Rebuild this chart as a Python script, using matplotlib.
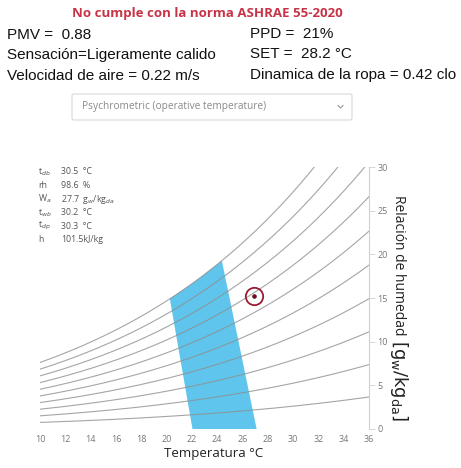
import numpy as np
import matplotlib
matplotlib.use("Agg")
import matplotlib.pyplot as plt
from matplotlib.patches import FancyBboxPatch, Polygon
from matplotlib.lines import Line2D

# ---- data -------------------------------------------------------------
rh_levels = [10, 20, 30, 40, 50, 60, 70, 80, 90, 100]      # % relative humidity lines
x_ticks = [10, 12, 14, 16, 18, 20, 22, 24, 26, 28, 30, 32, 34, 36]
y_ticks = [0, 5, 10, 15, 20, 25, 30]

# comfort zone corners (operative temperature, °C); top edge follows saturation
zone_bottom_left = 22.05
zone_top_left = 20.26
zone_top_right = 24.37
zone_bottom_right = 27.12

point_t = 26.9     # °C
point_w = 15.2     # g/kg

header = "No cumple con la norma ASHRAE 55-2020"
left_lines = ["PMV =  0.88", "Sensación=Ligeramente calido", "Velocidad de aire = 0.22 m/s"]
right_lines = ["PPD =  21%", "SET =  28.2 °C", "Dinamica de la ropa = 0.42 clo"]
info_labels = [r"t$_{db}$", "rh", r"W$_a$", r"t$_{wb}$", r"t$_{dp}$", "h"]
info_values = ["30.5  °C", "98.6  %", r"27.7  g$_w$/kg$_{da}$", "30.2  °C", "30.3  °C", "101.5kJ/kg"]
dropdown_text = "Psychrometric (operative temperature)"

P_ATM = 101.325  # kPa


def sat_pressure(t):
    return 0.61094 * np.exp(17.625 * t / (t + 243.04))


def humidity_ratio(t, rh):
    pv = rh / 100.0 * sat_pressure(t)
    return 622.0 * pv / (P_ATM - pv)


W, H = 461, 468
fig = plt.figure(figsize=(W / 100, H / 100), dpi=100)
fig.patch.set_facecolor("white")


def fx(px):
    return px / W


def fy(py):
    return 1 - py / H


# ---- header text ------------------------------------------------------
fig.text(fx(207), fy(13), header, color="#c73347", fontsize=9.5, fontweight="bold",
         family="Open Sans", ha="center", va="center")
for i, s in enumerate(left_lines):
    fig.text(fx(7), fy(35 + i * 20.5), s, fontsize=11, family="Liberation Sans",
             color="#111111", ha="left", va="center")
for i, s in enumerate(right_lines):
    fig.text(fx(250), fy(33.5 + i * 20.5), s, fontsize=11, family="Liberation Sans",
             color="#111111", ha="left", va="center")

# dropdown selector
box = FancyBboxPatch((fx(72), fy(120)), fx(352) - fx(72), fy(94) - fy(120),
                     boxstyle="round,pad=0,rounding_size=0.004",
                     transform=fig.transFigure, facecolor="white",
                     edgecolor="#d8d8d8", linewidth=0.8)
fig.patches.append(box)
fig.text(fx(82), fy(107), dropdown_text, fontsize=7.3, family="Open Sans",
         color="#8a8a8a", ha="left", va="center")
fig.lines.append(Line2D([fx(338), fx(340.5), fx(343)], [fy(105.5), fy(108), fy(105.5)],
                        transform=fig.transFigure, color="#999999", lw=0.8))

# ---- psychrometric chart ---------------------------------------------
ax = fig.add_axes([fx(40), fy(429), fx(369) - fx(40), fy(167) - fy(429)])
ax.set_xlim(10, 36)
ax.set_ylim(0, 30)

# comfort zone
top_t = np.linspace(zone_top_left, zone_top_right, 30)
zone = [(zone_bottom_left, 0)] + [(t, humidity_ratio(t, 100)) for t in top_t] + [(zone_bottom_right, 0)]
ax.add_patch(Polygon(zone, closed=True, facecolor="#5fc5ec", edgecolor="none", zorder=1))

t = np.linspace(10, 36, 300)
for rh in rh_levels:
    ax.plot(t, humidity_ratio(t, rh), color="#8f8f8f", lw=0.8, alpha=0.8, zorder=2)

ax.plot(point_t, point_w, marker="o", ms=12.5, mfc="none", mec="#9c1c34", mew=1.3, zorder=4)
ax.plot(point_t, point_w, marker="o", ms=2.3, color="#6b0f20", zorder=4)

for s in ["top", "left", "bottom"]:
    ax.spines[s].set_visible(False)
ax.spines["right"].set_color("#d0d0d0")
ax.spines["right"].set_linewidth(0.8)
ax.yaxis.tick_right()
ax.set_yticks(y_ticks)
ax.set_xticks(x_ticks)
ax.tick_params(axis="y", length=4, width=0.6, color="#d0d0d0", labelsize=6.5,
               labelcolor="#777777", pad=2)
ax.tick_params(axis="x", length=0, labelsize=6.5, labelcolor="#777777", pad=4)
for lab in ax.get_xticklabels() + ax.get_yticklabels():
    lab.set_family("Open Sans")

# readout block
for i, (lab, val) in enumerate(zip(info_labels, info_values)):
    yy = 172 + i * 13.6
    fig.text(fx(38), fy(yy), lab, fontsize=6.3, color="#555555", family="Open Sans",
             ha="left", va="center")
    fig.text(fx(61), fy(yy), val, fontsize=6.3, color="#555555", family="Open Sans",
             ha="left", va="center")

# axis titles
fig.text(fx(214), fy(453), "Temperatura °C", fontsize=9.5, family="Open Sans",
         color="#222222", ha="center", va="center")
fig.text(fx(398), fy(265), "Relación de humedad", fontsize=10, family="Open Sans",
         color="#222222", rotation=-90, ha="center", va="center")
fig.text(fx(399), fy(381), r"$\left[\mathrm{g_w/kg_{da}}\right]$", fontsize=13,
         color="#222222", rotation=-90, ha="center", va="center")

fig.savefig("out.png", dpi=100, facecolor="white")
